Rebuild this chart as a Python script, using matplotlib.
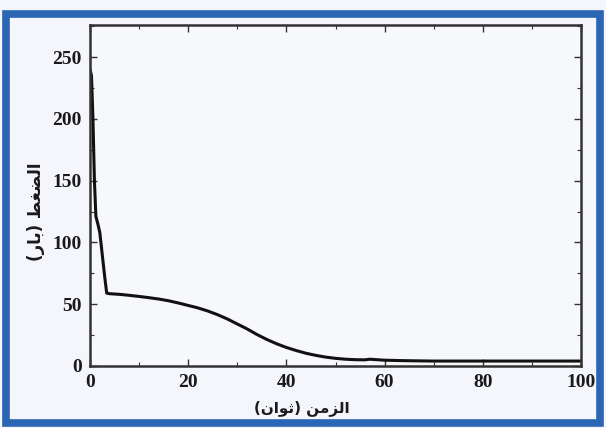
"""
Pressure drop over time (Arabic labels)
"""
import matplotlib
matplotlib.use("Agg")
import matplotlib.pyplot as plt
from matplotlib.patches import Rectangle
from matplotlib.ticker import MultipleLocator

# time (s) and pressure (bar)
time_s = [0, 0.3, 0.6, 0.9, 1.2, 1.6, 2.0, 2.5, 3.0, 3.4, 4, 6, 8, 10, 12, 14, 16, 18,
          20, 22, 24, 26, 28, 30, 32, 34, 36, 38, 40, 42, 44, 46, 48, 50, 52, 54, 56,
          57, 58, 60, 63, 66, 70, 80, 90, 100]
pressure_bar = [240, 235, 200, 150, 121, 115, 108, 90, 72, 59, 58.5, 58, 57.2, 56.3, 55.3,
                54.2, 52.8, 51, 49, 47, 44.5, 41.5, 38, 34, 30, 25.5, 21.5, 18, 15, 12.5,
                10.3, 8.6, 7.2, 6.2, 5.5, 5.1, 5, 5.5, 5.2, 4.7, 4.4, 4.2, 4, 4, 4, 4]

x_ticks = [0, 20, 40, 60, 80, 100]
y_ticks = [0, 50, 100, 150, 200, 250]

# Arabic text written in presentation forms, visual order (matplotlib does no shaping)
x_label = "(\uFEE5\uFE8D\uFEEE\uFE9B) \uFEE6\uFEE3\uFEB0\uFEDF\uFE8D"   # الزمن (ثوان)
y_label = "(\uFEAD\uFE8E\uFE91) \uFEC2\uFED0\uFEC0\uFEDF\uFE8D"         # الضغط (بار)

W, H = 606, 428
fig = plt.figure(figsize=(W / 100, H / 100), dpi=100, facecolor="#f4f6fb")

# blue frame round the picture
fig.patches.append(Rectangle((6 / W, 5 / H), 594 / W, 409 / H, transform=fig.transFigure,
                             fill=False, edgecolor="#2a66b4", linewidth=5.5))

ax = fig.add_axes([90 / W, (H - 366) / H, (581 - 90) / W, (366 - 25) / H])
ax.set_facecolor("#f7f8fc")
ax.plot(time_s, pressure_bar, color="#111111", linewidth=2.2, solid_joinstyle="round")

ax.set_xlim(0, 100)
ax.set_ylim(0, 276)
ax.set_xticks(x_ticks)
ax.set_yticks(y_ticks)
ax.xaxis.set_minor_locator(MultipleLocator(10))
ax.yaxis.set_minor_locator(MultipleLocator(25))
ax.tick_params(which="both", direction="in", top=True, right=True, color="#333333")
ax.tick_params(which="major", length=5, width=1, pad=6)
ax.tick_params(which="minor", length=3, width=0.8)
for lab in ax.get_xticklabels() + ax.get_yticklabels():
    lab.set_fontfamily("Liberation Serif")
    lab.set_fontweight("bold")
    lab.set_fontsize(14)
    lab.set_color("#1a1a1a")
for sp in ax.spines.values():
    sp.set_linewidth(1.8)
    sp.set_color("#333333")

fig.text(302 / W, (H - 408) / H, x_label, ha="center", va="center",
         fontfamily="DejaVu Sans", fontweight="bold", fontsize=11, color="#1a1a1a")
fig.text(36 / W, (H - 212) / H, y_label, ha="center", va="center", rotation=90,
         fontfamily="DejaVu Sans", fontweight="bold", fontsize=12, color="#1a1a1a")

fig.savefig("out.png", dpi=100, facecolor=fig.get_facecolor())
